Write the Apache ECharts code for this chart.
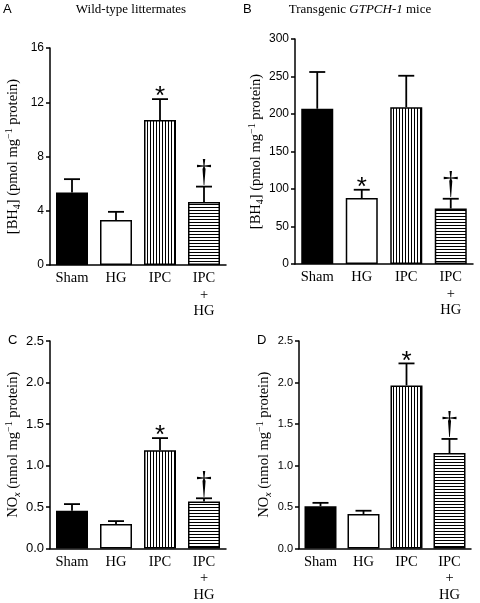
<!DOCTYPE html>
<html>
<head>
<meta charset="utf-8">
<script src="https://cdn.jsdelivr.net/npm/echarts@6/dist/echarts.min.js"></script>
<style>
html,body{margin:0;padding:0;background:#fff;}
#chart{width:480px;height:603px;}
</style>
</head>
<body>
<div id="chart"></div>
<script>
// ---- Data ----
const categories = ['Sham', 'HG', 'IPC', 'IPC\n+\nHG'];

const bh4Wild = [5.35, 3.32, 10.7, 4.65];
const bh4WildSem = [0.98, 0.6, 1.53, 1.13];
const bh4WildMarks = ['', '', '*', '†'];

const bh4Tg = [207, 88, 209, 74];
const bh4TgSem = [49, 11, 42, 13];
const bh4TgMarks = ['', '*', '', '†'];

const noxWild = [0.455, 0.295, 1.185, 0.565];
const noxWildSem = [0.08, 0.035, 0.145, 0.04];
const noxWildMarks = ['', '', '*', '†'];

const noxTg = [0.51, 0.415, 1.965, 1.15];
const noxTgSem = [0.04, 0.04, 0.265, 0.17];
const noxTgMarks = ['', '', '*', '†'];

const yTicksA = {min: 0, max: 16, interval: 4};
const yTicksB = {min: 0, max: 300, interval: 50};
const yTicksC = {min: 0, max: 2.5, interval: 0.5};
const yTicksD = {min: 0, max: 2.5, interval: 0.5};

// ---- Patterns ----
function stripe(vertical) {
  const c = document.createElement('canvas');
  c.width = 3; c.height = 3;
  const ctx = c.getContext('2d');
  ctx.fillStyle = '#fff';
  ctx.fillRect(0, 0, 3, 3);
  ctx.fillStyle = '#000';
  if (vertical) ctx.fillRect(0, 0, 1, 3); else ctx.fillRect(0, 0, 3, 1);
  return {image: c, repeat: 'repeat'};
}
const fills = ['#000', '#fff', stripe(true), stripe(false)];

const SERIF = '"Liberation Serif", "Times New Roman", serif';
const SANS = '"Liberation Sans", Arial, sans-serif';

const chart = echarts.init(document.getElementById('chart'), null, {renderer: 'canvas'});

const grids = [
  {left: 50, right: 254, top: 48, bottom: 338},
  {left: 295, right: 7, top: 39, bottom: 339},
  {left: 50, right: 254, top: 341, bottom: 51},
  {left: 299, right: 9, top: 341, bottom: 50}
];

const panels = [
  {vals: bh4Wild, sem: bh4WildSem, marks: bh4WildMarks, ticks: yTicksA, dec: 0, lblSize: 12,
   name: '{n|[BH}{s|4}{n|] (pmol mg}{p|−1}{n| protein)}', gap: 28},
  {vals: bh4Tg, sem: bh4TgSem, marks: bh4TgMarks, ticks: yTicksB, dec: 0, lblSize: 12,
   name: '{n|[BH}{s|4}{n|] (pmol mg}{p|−1}{n| protein)}', gap: 30},
  {vals: noxWild, sem: noxWildSem, marks: noxWildMarks, ticks: yTicksC, dec: 1, lblSize: 13,
   name: '{n|NO}{i|x}{n| (nmol mg}{p|−1}{n| protein)}', gap: 28},
  {vals: noxTg, sem: noxTgSem, marks: noxTgMarks, ticks: yTicksD, dec: 1, lblSize: 11,
   name: '{n|NO}{i|x}{n| (nmol mg}{p|−1}{n| protein)}', gap: 26}
];

const nameRich = {
  n: {fontFamily: SERIF, fontSize: 14.5, color: '#000', lineHeight: 18},
  s: {fontFamily: SERIF, fontSize: 10, color: '#000', lineHeight: 8, verticalAlign: 'bottom'},
  i: {fontFamily: SERIF, fontSize: 10, fontStyle: 'italic', color: '#000', lineHeight: 8, verticalAlign: 'bottom'},
  p: {fontFamily: SERIF, fontSize: 10, color: '#000', lineHeight: 8, verticalAlign: 'top'}
};

const xAxes = [], yAxes = [], series = [];
panels.forEach((p, k) => {
  xAxes.push({
    type: 'category', gridIndex: k, data: categories,
    axisLine: {lineStyle: {color: '#000', width: 1.5}},
    axisTick: {show: false},
    axisLabel: {interval: 0, color: '#000', fontFamily: SERIF, fontSize: 14.5, lineHeight: 16.5, margin: 5}
  });
  yAxes.push({
    type: 'value', gridIndex: k, min: p.ticks.min, max: p.ticks.max, interval: p.ticks.interval,
    axisLine: {show: true, lineStyle: {color: '#000', width: 1.5}},
    axisTick: {show: true, length: 4, lineStyle: {color: '#000', width: 1.5}},
    splitLine: {show: false},
    axisLabel: {color: '#000', fontFamily: SANS, fontSize: p.lblSize, margin: 6,
      formatter: v => v.toFixed(p.dec)},
    name: p.name, nameLocation: 'middle', nameRotate: 90, nameGap: p.gap,
    nameTextStyle: {rich: nameRich}
  });
  series.push({
    type: 'bar', xAxisIndex: k, yAxisIndex: k, barWidth: 32,
    data: p.vals.map((v, i) => ({value: v, itemStyle: {color: fills[i]}})),
    itemStyle: {borderColor: '#000', borderWidth: 1.5},
    emphasis: {disabled: true},
    animation: false
  });
  series.push({
    type: 'custom', xAxisIndex: k, yAxisIndex: k, z: 5,
    data: p.vals.map((v, i) => [i, v, p.sem[i]]),
    encode: {x: 0, y: 1},
    animation: false,
    renderItem: function (params, api) {
      const i = api.value(0), v = api.value(1), e = api.value(2);
      const b = api.coord([i, v]);
      const t = api.coord([i, v + e]);
      const hw = 8;
      const ls = {stroke: '#000', lineWidth: 1.8};
      const children = [
        {type: 'line', shape: {x1: b[0], y1: b[1], x2: t[0], y2: t[1]}, style: ls},
        {type: 'line', shape: {x1: t[0] - hw, y1: t[1], x2: t[0] + hw, y2: t[1]}, style: ls}
      ];
      const m = p.marks[i];
      if (m === '*') {
        children.push({type: 'text', style: {text: '*', x: t[0], y: t[1] + 11, align: 'center',
          verticalAlign: 'bottom', fontFamily: SANS, fontSize: 26, fill: '#000'}});
      } else if (m === '†') {
        children.push({type: 'text', style: {text: '†', x: t[0], y: t[1] + 2, align: 'center',
          verticalAlign: 'bottom', fontFamily: SERIF, fontSize: 32, fill: '#000'}});
      }
      return {type: 'group', children: children};
    }
  });
});

chart.setOption({
  animation: false,
  grid: grids,
  xAxis: xAxes,
  yAxis: yAxes,
  series: series,
  graphic: [
    {type: 'text', x: 3, y: 3, style: {text: 'A', fontFamily: SANS, fontSize: 13, fill: '#000'}},
    {type: 'text', x: 243, y: 3, style: {text: 'B', fontFamily: SANS, fontSize: 13, fill: '#000'}},
    {type: 'text', x: 8, y: 334, style: {text: 'C', fontFamily: SANS, fontSize: 13, fill: '#000'}},
    {type: 'text', x: 257, y: 334, style: {text: 'D', fontFamily: SANS, fontSize: 13, fill: '#000'}},
    {type: 'text', x: 131, y: 3, style: {text: 'Wild-type littermates', align: 'center',
      fontFamily: SERIF, fontSize: 13, fill: '#000'}},
    {type: 'text', x: 360, y: 3, style: {text: 'Transgenic {i|GTPCH-1} mice', align: 'center',
      fontFamily: SERIF, fontSize: 13, fill: '#000',
      rich: {i: {fontFamily: SERIF, fontSize: 13, fontStyle: 'italic', fill: '#000'}}}}
  ]
});
</script>
</body>
</html>
